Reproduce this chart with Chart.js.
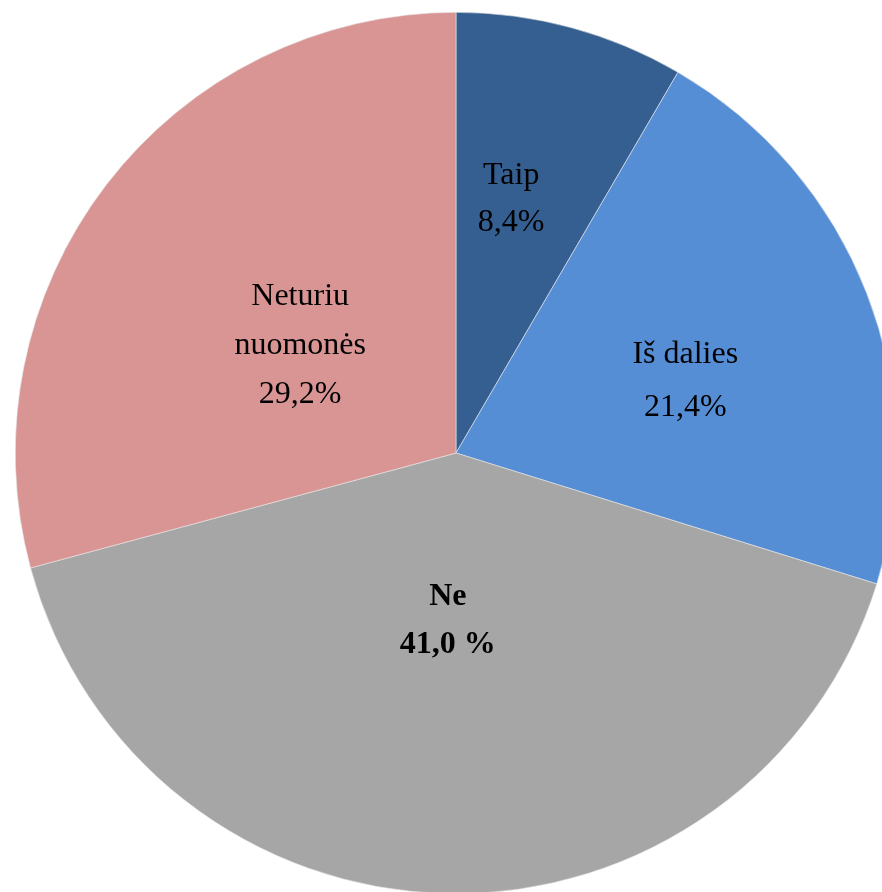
<!DOCTYPE html>
<html><head><meta charset="utf-8">
<script src="https://cdn.jsdelivr.net/npm/chart.js@4/dist/chart.umd.min.js"></script>
<style>
html,body{margin:0;padding:0;background:#fff;overflow:hidden;width:882px;height:892px;}
#wrap{position:absolute;left:15px;top:12px;width:882px;height:882px;}
</style></head><body>
<div id="wrap"><canvas id="c" width="882" height="882"></canvas></div>
<script>
const categories = ["Taip", "Iš dalies", "Ne", "Neturiu nuomonės"];
const labelLines = [["Taip", "8,4%"], ["Iš dalies", "21,4%"], ["Ne", "41,0 %"], ["Neturiu", "nuomonės", "29,2%"]];
const values = [8.4, 21.4, 41.0, 29.2];
const colors = ["#355f91", "#558ed5", "#a6a6a6", "#d99594"];

const labelPlugin = {
  id: 'sliceLabels',
  afterDatasetsDraw(chart, args, opts) {
    const ctx = chart.ctx;
    const meta = chart.getDatasetMeta(0);
    meta.data.forEach((arc, i) => {
      const p = arc.getProps(['x','y','startAngle','endAngle','outerRadius'], true);
      const mid = (p.startAngle + p.endAngle) / 2 + (opts.angleShift[i] || 0);
      const r = p.outerRadius * opts.dist[i];
      const x = p.x + Math.cos(mid) * r;
      const y = p.y + Math.sin(mid) * r;
      const lines = labelLines[i];
      const lh = opts.lineHeight[i];
      ctx.save();
      ctx.fillStyle = '#000';
      ctx.textAlign = 'center';
      ctx.textBaseline = 'middle';
      ctx.font = (opts.bold[i] ? 'bold ' : '') + '32px "Liberation Serif", "DejaVu Serif", serif';
      const y0 = y - (lines.length - 1) * lh / 2;
      lines.forEach((t, k) => ctx.fillText(t, x, y0 + k * lh));
      ctx.restore();
    });
  }
};

new Chart(document.getElementById('c'), {
  type: 'pie',
  data: {
    labels: categories,
    datasets: [{ data: values, backgroundColor: colors, borderWidth: 0.6, borderColor: '#e8e8e8' }]
  },
  options: {
    responsive: false,
    animation: false,
    layout: { padding: 0 },
    plugins: {
      legend: { display: false },
      tooltip: { enabled: false },
      sliceLabels: {
        dist: [0.59, 0.545, 0.38, 0.43],
        angleShift: [-0.05, 0.068, 0.03, -0.048],
        lineHeight: [47, 53, 48, 49],
        bold: [false, false, true, false]
      }
    }
  },
  plugins: [labelPlugin]
});
</script>
</body></html>
